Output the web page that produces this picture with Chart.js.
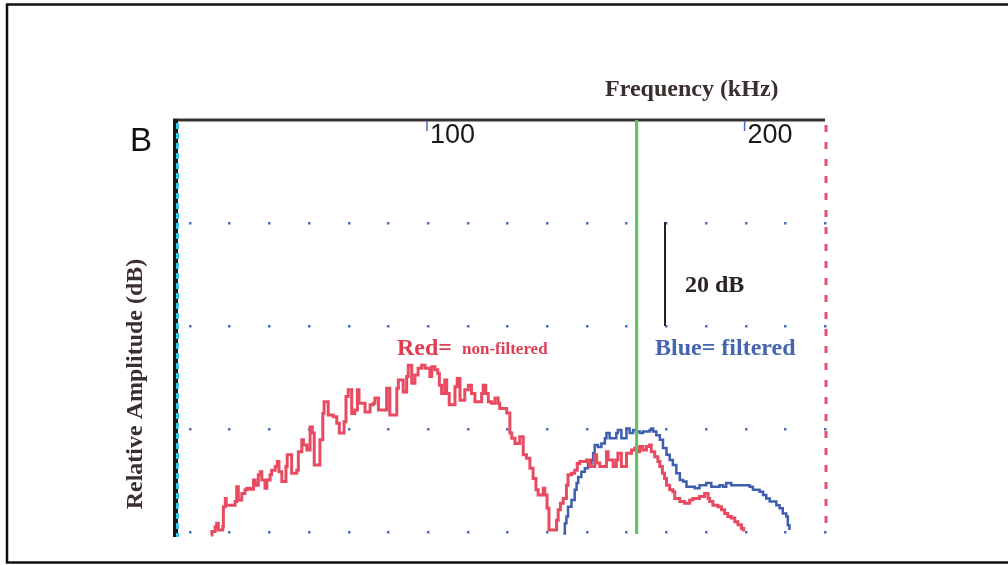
<!DOCTYPE html>
<html>
<head>
<meta charset="utf-8">
<script src="https://cdn.jsdelivr.net/npm/chart.js@4"></script>
<style>
    body { margin: 0; background: #ffffff; }
    canvas { display: block; }
</style>
</head>
<body>
<canvas id="spectrum" width="1008" height="565"></canvas>
<script>
var redKHz = [31.7, 32.0, 33.0, 33.5, 34.0, 35.4, 35.6, 36.2, 36.5, 39.3, 39.8, 40.3, 41.4, 42.4, 43.0, 44.0,
    45.1, 45.6, 46.6, 47.2, 47.7, 48.7, 49.3, 50.3, 50.8, 51.9, 52.6, 53.1, 54.0, 55.3, 55.7, 57.1, 58.7, 59.2,
    60.3, 60.8, 61.9, 62.9, 63.6, 64.2, 66.0, 66.9, 67.3, 68.6, 70.2, 71.3, 72.1, 73.6, 74.2, 74.9, 76.0,
    77.0, 77.8, 78.3, 80.2, 81.8, 82.8, 83.3, 84.4, 87.0, 88.0, 90.2, 90.7, 92.2, 93.3, 93.8, 94.9, 95.9,
    96.9, 98.0, 99.1, 100.6, 101.2, 102.2, 103.1, 103.6, 104.3, 105.3, 105.9, 106.7, 108.5, 109.2, 110.1,
    111.6, 112.7, 113.7, 114.8, 116.9, 117.4, 118.2, 119.0, 120.0, 121.1, 122.1, 122.6, 124.8, 125.8, 126.4,
    127.4, 128.9, 130.0, 131.0, 132.1, 133.1, 134.0, 134.7, 136.3, 136.8, 137.5, 138.1, 140.5, 141.0, 141.7,
    142.6, 143.6, 144.1, 145.2, 146.2, 147.0, 147.8, 149.9, 150.9, 152.5, 153.1, 154.1, 156.2, 156.7, 158.3,
    159.3, 159.8, 160.9, 162.5, 164.1, 165.1, 166.1, 166.7, 167.7, 168.8, 169.8, 170.3, 171.4, 172.4, 173.0,
    173.8, 174.5, 175.1, 176.1, 177.1, 177.7, 179.3, 180.8, 182.4, 183.4, 185.5, 187.1, 188.2, 188.7, 189.7,
    191.3, 192.4, 193.4, 194.4, 195.5, 196.6, 197.6, 198.7, 199.4];
var redDB = [-80.6, -79.9, -79.0, -78.3, -79.6, -79.0, -75.1, -73.5, -74.8, -74.1, -71.2, -73.8, -72.5, -71.8, -71.5, -71.7,
    -69.9, -70.9, -68.9, -68.3, -69.9, -71.5, -69.9, -68.9, -68.0, -67.3, -66.3, -68.3, -70.2, -67.3, -65.0, -68.6, -68.0, -64.4,
    -62.1, -63.1, -64.1, -59.6, -60.8, -67.0, -62.1, -57.0, -54.7, -57.3, -57.6, -58.9, -60.8, -58.6, -53.7, -52.4, -57.0,
    -56.3, -52.4, -55.0, -56.7, -55.3, -55.0, -54.0, -56.3, -52.1, -57.3, -52.1, -50.5, -52.8, -49.8, -47.6, -51.1, -49.5,
    -48.2, -47.6, -48.2, -49.8, -47.9, -48.5, -49.2, -51.5, -53.1, -50.5, -53.1, -55.3, -51.8, -50.2, -54.4,
    -52.4, -51.5, -53.1, -54.7, -53.1, -51.5, -53.1, -54.7, -55.0, -54.0, -55.0, -56.0, -56.9, -60.8, -61.8,
    -62.8, -61.5, -65.0, -65.7, -67.6, -69.6, -71.8, -72.8, -71.5, -72.8, -75.4, -79.6, -77.7, -75.7, -74.4,
    -73.5, -70.9, -68.9, -68.6, -68.0, -66.7, -66.3, -66.0, -67.3, -65.0, -66.6, -67.3, -64.4, -66.0, -67.3,
    -66.0, -64.7, -67.3, -64.7, -64.1, -63.7, -64.4, -63.4, -64.1, -63.4, -63.1, -64.4, -65.4, -66.3, -67.3,
    -68.6, -69.6, -70.9, -71.8, -72.2, -73.5, -74.1, -74.4, -73.8, -73.5, -73.1, -72.5, -73.5, -74.1, -74.8,
    -75.1, -75.7, -76.4, -77.0, -77.3, -78.0, -78.6, -79.3, -79.9];

var blueKHz = [142.6, 143.1, 143.6, 144.1, 145.2, 146.2, 146.8, 147.3, 148.3, 149.4, 150.4, 151.5, 152.0, 152.5,
    153.5, 154.6, 155.7, 156.2, 157.2, 159.3, 159.8, 160.9, 162.5, 163.5, 164.6, 165.6, 166.7, 167.7, 169.8,
    170.3, 170.9, 171.9, 173.0, 174.0, 175.1, 176.1, 177.1, 178.2, 179.3, 180.3, 181.4, 184.0, 185.5, 187.6,
    189.2, 191.8, 192.9, 193.9, 195.5, 201.3, 202.3, 204.4, 205.5, 206.5, 207.6, 209.7, 210.7, 211.7, 212.8,
    213.3, 213.8];
var blueDB = [-80.3, -78.3, -77.0, -75.1, -73.8, -71.8, -70.5, -69.3, -68.3, -67.6, -66.7, -66.0, -64.7, -63.1,
    -63.5, -62.8, -61.8, -60.8, -61.8, -60.8, -60.2, -61.8, -59.9, -60.8, -60.2, -60.5, -60.8, -60.5, -60.2,
    -59.9, -60.5, -61.2, -62.1, -63.7, -65.0, -66.0, -67.0, -68.6, -69.9, -70.2, -71.2, -71.5, -70.9, -70.5,
    -71.2, -70.9, -71.2, -70.5, -70.9, -71.2, -71.8, -72.2, -72.8, -73.5, -74.1, -74.8, -75.4, -76.4, -77.0,
    -78.7, -79.6];

var tickKHz = [100, 200];
var tickLabels = ["100", "200"];
var gridKHz = [25, 37.5, 50, 62.5, 75, 87.5, 100, 112.5, 125, 137.5, 150, 162.5, 175, 187.5, 200, 212.5, 225];
var gridDB = [-20, -40, -60, -80];
var markerKHz = 165.7;
var scaleBarDB = [-20, -40];


var Script = function () {

    function pontos(xs, ys)
    {
        var out = [];
        for (var i = 0; i < xs.length; i++) {
            out.push({x: xs[i], y: ys[i]});
        }
        return out;
    }

    var decor = {
        id: 'decor',
        beforeDatasetsDraw: function (chart) {
            var c = chart.ctx;
            var xs = chart.scales.x;
            var ys = chart.scales.y;
            var area = chart.chartArea;

            c.save();

            // frame
            c.strokeStyle = "#111111";
            c.lineWidth = 2.5;
            c.strokeRect(7, 4.5, 1010, 558);

            // dot grid
            c.fillStyle = "#4d6cb8";
            for (var i = 0; i < gridKHz.length; i++) {
                for (var j = 0; j < gridDB.length; j++) {
                    c.fillRect(Math.round(xs.getPixelForValue(gridKHz[i])) - 1, Math.round(ys.getPixelForValue(gridDB[j])) - 1, 2.5, 2.5);
                }
            }

            // right edge, red dashed
            c.strokeStyle = "#e8506a";
            c.lineWidth = 3;
            c.setLineDash([7, 10]);
            c.beginPath();
            c.moveTo(area.right + 1, area.top + 5);
            c.lineTo(area.right + 1, area.bottom);
            c.stroke();
            c.setLineDash([]);

            // top axis
            c.strokeStyle = "#3a3230";
            c.lineWidth = 3;
            c.beginPath();
            c.moveTo(area.left - 4, area.top);
            c.lineTo(area.right, area.top);
            c.stroke();

            // left axis, black with cyan dashes
            c.strokeStyle = "#1a1a1a";
            c.lineWidth = 5;
            c.beginPath();
            c.moveTo(area.left - 1.5, area.top - 1);
            c.lineTo(area.left - 1.5, area.bottom + 5);
            c.stroke();
            c.strokeStyle = "#3cc4e6";
            c.lineWidth = 3;
            c.setLineDash([6, 4]);
            c.beginPath();
            c.moveTo(area.left + 0.5, area.top + 3);
            c.lineTo(area.left + 0.5, area.bottom + 5);
            c.stroke();
            c.setLineDash([]);

            // ticks + labels
            c.font = "27px 'Liberation Sans', Arial, sans-serif";
            c.textBaseline = "alphabetic";
            c.textAlign = "left";
            for (var t = 0; t < tickKHz.length; t++) {
                var px = xs.getPixelForValue(tickKHz[t]);
                c.strokeStyle = "#4d6cb8";
                c.lineWidth = 1.5;
                c.beginPath();
                c.moveTo(px - 1, area.top + 1);
                c.lineTo(px - 1, area.top + 11);
                c.stroke();
                c.fillStyle = "#1a1a1a";
                c.fillText(tickLabels[t], px + 2, area.top + 23);
            }

            c.font = "33px 'Liberation Sans', Arial, sans-serif";
            c.fillStyle = "#111111";
            c.fillText("B", 130, 151);

            c.font = "bold 24px 'Liberation Serif', 'Times New Roman', serif";
            c.fillStyle = "#3a2f2f";
            c.fillText("Frequency (kHz)", 605, 96);

            c.save();
            c.translate(142, 384);
            c.rotate(-Math.PI / 2);
            c.textAlign = "center";
            c.fillText("Relative Amplitude (dB)", 0, 0);
            c.restore();

            // 20 dB scale bar
            var bx = 665;
            c.strokeStyle = "#222222";
            c.lineWidth = 2;
            c.beginPath();
            c.moveTo(bx, ys.getPixelForValue(scaleBarDB[0]) - 1);
            c.lineTo(bx, ys.getPixelForValue(scaleBarDB[1]));
            c.stroke();
            c.fillStyle = "#2a2222";
            c.fillText("20 dB", 685, 292);

            c.fillStyle = "#e03c52";
            c.fillText("Red=", 397, 355);
            c.font = "bold 17px 'Liberation Serif', 'Times New Roman', serif";
            c.fillText("non-filtered", 462, 354);

            c.font = "bold 24px 'Liberation Serif', 'Times New Roman', serif";
            c.fillStyle = "#4565b0";
            c.fillText("Blue= filtered", 655, 355);

            c.restore();
        },
        afterDatasetsDraw: function (chart) {
            var c = chart.ctx;
            var area = chart.chartArea;
            var gx = chart.scales.x.getPixelForValue(markerKHz);
            c.save();
            c.strokeStyle = "#5cc35e";
            c.lineWidth = 3;
            c.beginPath();
            c.moveTo(gx, area.top);
            c.lineTo(gx, area.bottom + 2);
            c.stroke();
            c.restore();
        }
    };

    var ctx = document.getElementById("spectrum").getContext("2d");

    new Chart(ctx, {
        type: 'line',
        data: {
            datasets: [
                {
                    label: "Red= non-filtered",
                    data: pontos(redKHz, redDB),
                    stepped: true,
                    borderColor: "#e84a62",
                    borderWidth: 3,
                    pointRadius: 0,
                    fill: false,
                    clip: false
                },
                {
                    label: "Blue= filtered",
                    data: pontos(blueKHz, blueDB),
                    stepped: true,
                    borderColor: "#3f5fae",
                    borderWidth: 2.5,
                    pointRadius: 0,
                    fill: false,
                    clip: false
                }
            ]
        },
        options: {
            responsive: false,
            animation: false,
            layout: {
                padding: {left: 177, right: 183, top: 120, bottom: 33}
            },
            scales: {
                x: {type: 'linear', min: 21, max: 225, display: false},
                y: {type: 'linear', min: -80, max: 0, display: false}
            },
            plugins: {
                legend: {display: false},
                tooltip: {enabled: false}
            }
        },
        plugins: [decor]
    });

}();
</script>
</body>
</html>
